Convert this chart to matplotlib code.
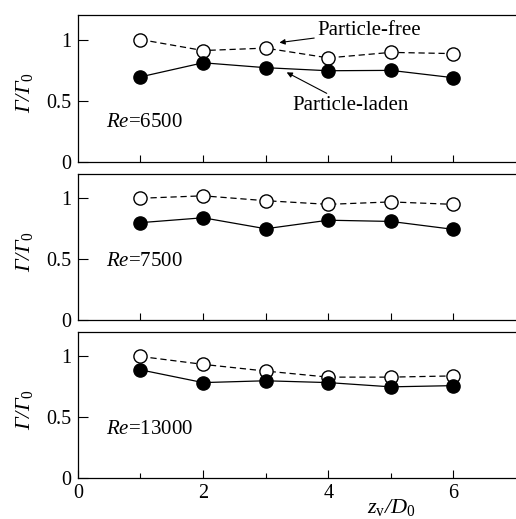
import matplotlib
matplotlib.use("Agg")
import matplotlib.pyplot as plt
from matplotlib.ticker import FixedLocator

plt.rcParams["font.family"] = ["Liberation Serif", "DejaVu Serif"]
# 数学文字：rm/it 用斜体，sf 用正体（下标）
plt.rcParams["mathtext.fontset"] = "custom"
plt.rcParams["mathtext.rm"] = "Liberation Serif:italic"
plt.rcParams["mathtext.it"] = "Liberation Serif:italic"
plt.rcParams["mathtext.sf"] = "Liberation Serif"

# 数据
zv = [1, 2, 3, 4, 5, 6]
re_labels = ["6500", "7500", "13000"]
free_6500 = [1.00, 0.91, 0.93, 0.85, 0.895, 0.885]
laden_6500 = [0.695, 0.81, 0.77, 0.745, 0.748, 0.688]
free_7500 = [1.00, 1.02, 0.98, 0.95, 0.97, 0.95]
laden_7500 = [0.80, 0.84, 0.75, 0.82, 0.81, 0.745]
free_13000 = [1.00, 0.935, 0.88, 0.83, 0.83, 0.84]
laden_13000 = [0.89, 0.785, 0.80, 0.785, 0.75, 0.76]
free_all = [free_6500, free_7500, free_13000]
laden_all = [laden_6500, laden_7500, laden_13000]
re_text_y = [0.32, 0.48, 0.40]

fig = plt.figure(figsize=(5.16, 5.19), dpi=100)
boxes = [(0.688, 0.971), (0.383, 0.665), (0.079, 0.360)]
left = 0.151

axes = []
for i, (b, t) in enumerate(boxes):
    ax = fig.add_axes([left, b, 1.0 - left, t - b])
    axes.append(ax)

    ax.plot(zv, free_all[i], "--", color="black", lw=0.9, dashes=(5, 3),
            marker="o", ms=9.5, mfc="white", mec="black", mew=1.0)
    ax.plot(zv, laden_all[i], "-", color="black", lw=0.9,
            marker="o", ms=9.5, mfc="black", mec="black")

    ax.set_xlim(0, 7)
    ax.set_ylim(0, 1.2)
    ax.spines["right"].set_visible(False)
    for s in ["top", "left", "bottom"]:
        ax.spines[s].set_linewidth(0.9)

    ax.set_yticks([0, 0.5, 1])
    ax.set_yticklabels(["0", "0.5", "1"])
    ax.tick_params(axis="y", direction="in", length=7, width=0.8,
                   labelsize=14.5, pad=5)

    if i < 2:
        ax.set_xticks(zv)
        ax.set_xticklabels([])
        ax.tick_params(axis="x", direction="in", length=5, width=0.8)
    else:
        ax.set_xticks([0, 2, 4, 6])
        ax.xaxis.set_minor_locator(FixedLocator([1, 3, 5]))
        ax.tick_params(axis="x", which="major", direction="in", length=6,
                       width=0.8, labelsize=14.5, pad=4)
        ax.tick_params(axis="x", which="minor", direction="in", length=3.5,
                       width=0.8)

    ax.set_ylabel(r"$\mathrm{Γ/Γ}_{\mathsf{0}}$", fontsize=16)
    ax.yaxis.set_label_coords(-0.098, 0.47)

    ax.text(0.45, re_text_y[i], r"$\mathit{Re}$=" + re_labels[i],
            fontsize=15, va="center", ha="left")

# 注释
axes[0].annotate("Particle-free", xy=(3.22, 0.975), xytext=(3.82, 1.07),
                 fontsize=15, va="center", ha="left",
                 arrowprops=dict(arrowstyle="-|>", color="black", lw=0.8,
                                 mutation_scale=8, shrinkA=0, shrinkB=0))
axes[0].annotate("Particle-laden", xy=(3.1, 0.795), xytext=(3.42, 0.46),
                 fontsize=15, va="center", ha="left",
                 arrowprops=dict(arrowstyle="-|>", color="black", lw=0.8,
                                 mutation_scale=8, shrinkA=0, shrinkB=12))

axes[2].text(5.0, -0.29, r"$\mathit{z}_{\mathsf{v}}/\mathit{D}_{\mathsf{0}}$",
             fontsize=16, ha="center", va="baseline",
             transform=axes[2].transData)

fig.savefig("out.png", dpi=100)
